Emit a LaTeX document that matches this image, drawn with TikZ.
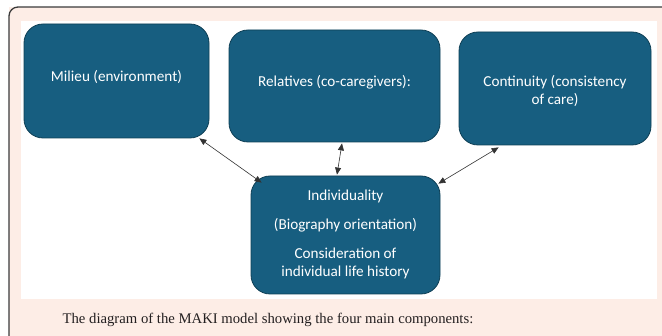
\documentclass[tikz,border=0pt]{standalone}
\usepackage{fontspec}
\setmainfont{Liberation Serif}
\newfontfamily\boxfont{Carlito}
\usetikzlibrary{arrows.meta,calc}
\definecolor{peach}{HTML}{FDEDE6}
\definecolor{frameline}{HTML}{3A3A3A}
\definecolor{boxfill}{HTML}{175E80}
\definecolor{boxline}{HTML}{0E3F55}
\definecolor{captxt}{HTML}{231F20}
\tikzset{
  comp/.style={draw=boxline, line width=0.8pt, fill=boxfill, rounded corners=19pt, inner sep=0pt},
  comptext/.style={text=white, font=\boxfont\fontsize{15.2}{18}\selectfont, align=center, inner sep=0pt},
  link/.style={draw=black!80, line width=0.6pt, {Triangle[length=7pt,width=6pt]}-{Triangle[length=7pt,width=6pt]}},
}
\begin{document}
\begin{tikzpicture}[x=1pt,y=-1pt]
\useasboundingbox (0,0) rectangle (662,336);
\clip (0,0) rectangle (662,336);
% outer frame
\fill[peach] (9,7) rectangle (700,360);
\draw[frameline, line width=1.3pt, rounded corners=9pt] (9,360) -- (9,7) -- (700,7);
% inner white panel
\fill[white] (21,21) rectangle (657,299);
% component boxes
\node[comp, minimum width=185pt, minimum height=114pt] (mil) at (116.5,81) {};
\node[comp, minimum width=211pt, minimum height=112pt] (rel) at (334.5,86) {};
\node[comp, minimum width=192pt, minimum height=113pt] (con) at (555,88.5) {};
\node[comp, minimum width=189pt, minimum height=118pt] (ind) at (345.5,235) {};
% texts
\node[comptext] (milt) at (116.5,77) {Milieu (environment)};
\node[comptext] (relt) at (334.5,82) {Relatives (co-caregivers):};
\node[comptext] (cont) at (555,91) {Continuity (consistency\\of care)};
\node[comptext] (indt1) at (345.5,196) {Individuality};
\node[comptext] (indt2) at (345.5,225) {(Biography orientation)};
\node[comptext] (indt3) at (345.5,263) {Consideration of\\individual life history};
% connectors
\draw[link] ($(mil.south east)+(-10,0)$) -- ($(ind.north west)+(11,7)$);
\draw[link] ($(rel.south)+(7.5,1)$) -- ($(ind.north)+(-8.5,-1)$);
\draw[link] ($(con.south west)+(40,2)$) -- ($(ind.north east)+(-2,8)$);
% caption
\node[text=captxt, font=\fontsize{14.7}{18}\selectfont, inner sep=0pt] (cap) at (268,320) {The diagram of the MAKI model showing the four main components:};
\end{tikzpicture}
\end{document}
